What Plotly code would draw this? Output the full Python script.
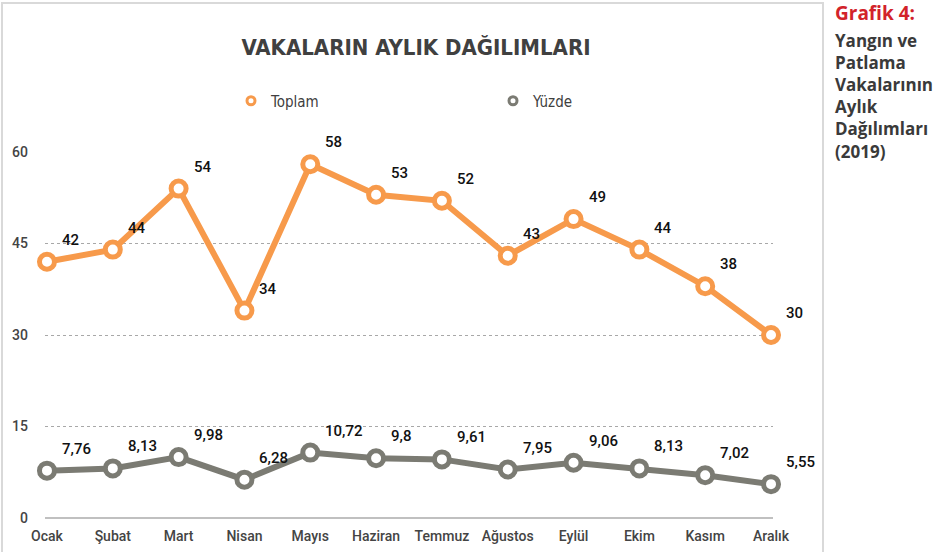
import plotly.graph_objects as go

months = ["Ocak", "Şubat", "Mart", "Nisan", "Mayıs", "Haziran", "Temmuz",
          "Ağustos", "Eylül", "Ekim", "Kasım", "Aralık"]
toplam = [42, 44, 54, 34, 58, 53, 52, 43, 49, 44, 38, 30]
yuzde = [7.76, 8.13, 9.98, 6.28, 10.72, 9.8, 9.61, 7.95, 9.06, 8.13, 7.02, 5.55]
yticks = [0, 15, 30, 45, 60]
side_lines = ["Yangın ve", "Patlama", "Vakalarının", "Aylık", "Dağılımları", "(2019)"]

ORANGE = "#F79A4B"
GRAY = "#7B7B73"
xs = list(range(len(months)))

def fmt(v):
    return f"{v:g}".replace(".", ",")

fig = go.Figure()
for name, vals, col in [("Toplam", toplam, ORANGE), ("Yüzde", yuzde, GRAY)]:
    fig.add_trace(go.Scatter(
        x=xs, y=vals, mode="lines+markers", showlegend=False,
        line=dict(color=col, width=6),
        marker=dict(size=15, color="white", line=dict(color=col, width=5)),
        cliponaxis=False, hoverinfo="skip"))
    for xi, v in zip(xs, vals):
        fig.add_annotation(x=xi, y=v, text=fmt(v), showarrow=False,
                           xanchor="left", yanchor="middle", xshift=13, yshift=22,
                           font=dict(family="Roboto", size=15, color="#111111", weight=500))

# legend-only traces
for name, col in [("Toplam", ORANGE), ("Yüzde", GRAY)]:
    fig.add_trace(go.Scatter(
        x=[None], y=[None], mode="markers", name=name,
        marker=dict(size=8, color="white", line=dict(color=col, width=3))))

fig.update_layout(
    width=951, height=552,
    margin=dict(l=45, r=178, t=152, b=34),
    paper_bgcolor="white", plot_bgcolor="white",
    title=dict(text="<b>VAKALARIN AYLIK DAĞILIMLARI</b>",
               x=416 / 951, xanchor="center", xref="container",
               y=1 - 47 / 552, yanchor="middle", yref="container",
               font=dict(family="Liberation Sans Narrow, DejaVu Sans Condensed, Roboto",
                         size=22, color="#404040")),
    legend=dict(orientation="h", xref="container", yref="container",
                x=231 / 951, y=1 - 101 / 552, xanchor="left", yanchor="middle",
                entrywidth=217, entrywidthmode="pixels",
                font=dict(family="Liberation Sans Narrow, DejaVu Sans Condensed, Roboto",
                          size=15, color="#404040"),
                bgcolor="rgba(0,0,0,0)"),
    xaxis=dict(range=[-0.03, 11.03], tickvals=xs, ticktext=months,
               showgrid=False, zeroline=False, showline=False, ticks="",
               ticklabelstandoff=8, automargin=False,
               tickfont=dict(family="Roboto", size=14, color="#444444", weight=500)),
    yaxis=dict(range=[0, 60], tickvals=yticks, showgrid=True,
               gridcolor="#a8a8a8", griddash="dot", gridwidth=1,
               zeroline=True, zerolinecolor="#c0c0c0", zerolinewidth=2,
               ticks="", ticklabelstandoff=16, automargin=False,
               tickfont=dict(family="Roboto", size=14, color="#444444", weight=500)),
)

# panel border
fig.add_shape(type="rect", xref="paper", yref="paper",
              x0=-43 / 728, x1=(823 - 45) / 728,
              y0=-40 / 366, y1=(518 - 3) / 366,
              line=dict(color="#d9d9d9", width=2), fillcolor="rgba(0,0,0,0)",
              layer="below")

fig.add_annotation(xref="paper", yref="paper", x=(833 - 45) / 728, y=(518 - 13) / 366,
                   xanchor="left", yanchor="middle", showarrow=False,
                   text="<b>Grafik 4:</b>",
                   font=dict(family="Open Sans", size=19, color="#D2232A"))
fig.add_annotation(xref="paper", yref="paper", x=(833 - 45) / 728, y=(518 - 96) / 366,
                   xanchor="left", yanchor="middle", showarrow=False, align="left",
                   text="<b>" + "<br>".join(side_lines) + "</b>",
                   font=dict(family="Open Sans", size=17, color="#3A3A3A"))

fig.write_html("out.html", post_script="document.body.style.margin='0';",
               config={"displayModeBar": False})
